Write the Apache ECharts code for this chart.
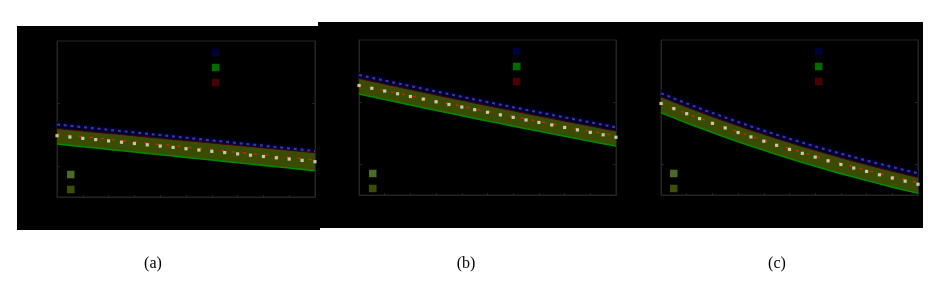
<!DOCTYPE html>
<html>
<head>
<meta charset="utf-8">
<script src="https://cdn.jsdelivr.net/npm/echarts@6/dist/echarts.min.js"></script>
<style>
html,body{margin:0;padding:0;background:#fff;}
#chart{width:950px;height:282px;}
</style>
</head>
<body>
<div id="chart"></div>
<script>
// ---- data ----
const steps = ['0','1','2','3','4','5','6','7','8','9','10','11','12','13','14','15','16','17','18','19','20'];
const panelCaptions = ['(a)', '(b)', '(c)'];

// panel (a)
const aUpperDashed = [1.162,1.141,1.120,1.098,1.077,1.056,1.034,1.013,0.992,0.971,0.950,0.928,0.907,0.886,0.864,0.843,0.822,0.801,0.779,0.758,0.737];
const aBandTop     = [1.098,1.079,1.059,1.040,1.021,1.002,0.982,0.963,0.944,0.924,0.905,0.886,0.866,0.847,0.828,0.809,0.789,0.770,0.751,0.731,0.712];
const aMean        = [1.010,0.989,0.968,0.947,0.927,0.906,0.885,0.864,0.843,0.822,0.802,0.781,0.760,0.739,0.718,0.697,0.676,0.656,0.635,0.614,0.593];
const aObserved    = [0.982,0.961,0.940,0.920,0.899,0.878,0.857,0.836,0.816,0.795,0.774,0.753,0.732,0.712,0.691,0.670,0.649,0.628,0.608,0.587,0.566];
const aBandBottom  = [0.849,0.828,0.806,0.785,0.763,0.742,0.721,0.699,0.678,0.656,0.635,0.614,0.592,0.571,0.549,0.528,0.507,0.485,0.464,0.442,0.421];

// panel (b)
const bUpperDashed = [1.935,1.890,1.845,1.801,1.757,1.713,1.670,1.627,1.584,1.541,1.499,1.457,1.416,1.374,1.333,1.293,1.252,1.212,1.172,1.132,1.092];
const bBandTop     = [1.882,1.837,1.791,1.747,1.703,1.658,1.615,1.571,1.528,1.485,1.442,1.400,1.359,1.316,1.275,1.235,1.193,1.153,1.113,1.072,1.032];
const bMean        = [1.774,1.730,1.686,1.643,1.600,1.558,1.515,1.473,1.432,1.390,1.349,1.308,1.268,1.227,1.187,1.148,1.108,1.069,1.030,0.991,0.952];
const bObserved    = [1.766,1.721,1.677,1.633,1.589,1.547,1.503,1.460,1.419,1.376,1.334,1.293,1.252,1.210,1.170,1.130,1.089,1.050,1.010,0.971,0.931];
const bBandBottom  = [1.629,1.585,1.540,1.496,1.452,1.408,1.365,1.322,1.279,1.236,1.194,1.152,1.111,1.069,1.028,0.988,0.947,0.907,0.868,0.829,0.790];

// panel (c)
const cUpperDashed = [1.640,1.557,1.477,1.399,1.323,1.249,1.177,1.106,1.038,0.972,0.907,0.844,0.783,0.724,0.666,0.610,0.555,0.501,0.450,0.399,0.350];
const cBandTop     = [1.585,1.502,1.421,1.342,1.265,1.191,1.118,1.047,0.979,0.912,0.847,0.783,0.722,0.662,0.603,0.547,0.491,0.438,0.385,0.334,0.285];
const cMean        = [1.479,1.397,1.317,1.240,1.164,1.090,1.019,0.949,0.881,0.815,0.751,0.689,0.628,0.569,0.512,0.456,0.401,0.348,0.297,0.247,0.198];
const cObserved    = [1.476,1.393,1.311,1.232,1.156,1.081,1.008,0.937,0.868,0.801,0.736,0.672,0.611,0.551,0.492,0.435,0.380,0.326,0.274,0.223,0.173];
const cBandBottom  = [1.327,1.244,1.163,1.084,1.007,0.933,0.860,0.789,0.721,0.654,0.589,0.525,0.464,0.404,0.345,0.289,0.233,0.180,0.127,0.076,0.027];

const yTickValues = [0.5, 1.5];
const legendTopNames = ['Upper envelope', 'Lower bound', 'Upper bound'];
const legendBottomNames = ['Confidence band', 'Prediction band'];

// ---- layout / style ----
const panelsData = [
  {up: aUpperDashed, top: aBandTop, mean: aMean, obs: aObserved, bot: aBandBottom},
  {up: bUpperDashed, top: bBandTop, mean: bMean, obs: bObserved, bot: bBandBottom},
  {up: cUpperDashed, top: cBandTop, mean: cMean, obs: cObserved, bot: cBandBottom}
];
const panelRects = [
  {x: 17, y: 26, w: 303, h: 204},
  {x: 318, y: 22, w: 314, h: 206},
  {x: 630, y: 22, w: 293, h: 206}
];
const grids = [
  {left: 57, top: 41, width: 258, height: 156},
  {left: 359, top: 40, width: 257, height: 155},
  {left: 661, top: 40, width: 257, height: 155}
];
const legendTopPos = [{left: 212, top: 48}, {left: 513, top: 47}, {left: 815, top: 47}];
const legendBotPos = [{left: 67, top: 170}, {left: 369, top: 169}, {left: 670, top: 169}];
const captionX = [153, 466, 777];

const C = {
  frame: '#242424', navy: '#000026', olive: '#3a4c00', green: '#008a00',
  darkred: '#3c0014', blue: '#3434b8', red: '#d42016', white: '#e8e8d6',
  legNavy: '#00003c', legGreen: '#006c00', legRed: '#4a0000',
  legOliveLight: '#4a6a28', legOlive: '#3c4e00'
};

const option = {
  backgroundColor: '#ffffff',
  animation: false,
  graphic: panelRects.map(r => ({type: 'rect', z: -10, silent: true,
    shape: {x: r.x, y: r.y, width: r.w, height: r.h}, style: {fill: '#000'}})),
  title: panelCaptions.map((t, i) => ({
    text: t, left: captionX[i], top: 256, padding: 0, textAlign: 'center',
    textStyle: {fontFamily: 'Liberation Serif', fontSize: 16, fontWeight: 'normal', color: '#000'}
  })),
  grid: grids.map(g => ({left: g.left, top: g.top, width: g.width, height: g.height,
    show: true, borderColor: C.frame, borderWidth: 1, backgroundColor: 'transparent', containLabel: false})),
  xAxis: grids.map((g, i) => ({
    type: 'category', gridIndex: i, data: steps, boundaryGap: false,
    axisLine: {show: true, lineStyle: {color: C.frame}},
    axisTick: {show: true, inside: true, length: 2, lineStyle: {color: C.frame}},
    axisLabel: {show: false}, splitLine: {show: false}
  })),
  yAxis: [],
  legend: [],
  series: []
};

grids.forEach((g, i) => {
  ['left', 'right'].forEach(pos => {
    option.yAxis.push({
      type: 'value', gridIndex: i, min: 0, max: 2.5, position: pos,
      axisLine: {show: true, lineStyle: {color: C.frame}},
      axisTick: {show: true, inside: true, length: 3, customValues: yTickValues, lineStyle: {color: C.frame}},
      axisLabel: {show: false}, splitLine: {show: false}
    });
  });
  const yi = i * 2;
  const d = panelsData[i];
  const navyTop = d.up.map(v => v + 0.045);
  const oliveDelta = d.top.map((v, k) => v - d.bot[k]);
  const navyDelta = navyTop.map((v, k) => v - d.top[k]);
  const stack = 'band' + i;
  const common = {xAxisIndex: i, yAxisIndex: yi, symbol: 'none', silent: true};
  option.series.push(
    Object.assign({}, common, {type: 'line', name: 'base' + i, stack, data: d.bot,
      lineStyle: {opacity: 0}, z: 1}),
    Object.assign({}, common, {type: 'line', name: legendBottomNames[1], stack, data: oliveDelta,
      lineStyle: {opacity: 0}, areaStyle: {color: C.olive, opacity: 1}, itemStyle: {color: C.legOlive}, z: 1}),
    Object.assign({}, common, {type: 'line', name: legendTopNames[0], stack, data: navyDelta,
      lineStyle: {opacity: 0}, areaStyle: {color: C.navy, opacity: 1}, itemStyle: {color: C.legNavy}, z: 1}),
    Object.assign({}, common, {type: 'line', name: legendTopNames[1], data: d.bot,
      lineStyle: {color: C.green, width: 1.6}, itemStyle: {color: C.legGreen}, z: 3}),
    Object.assign({}, common, {type: 'line', name: legendTopNames[2], data: d.top,
      lineStyle: {color: C.darkred, width: 1.2}, itemStyle: {color: C.legRed}, z: 3}),
    Object.assign({}, common, {type: 'line', name: 'Upper limit', data: d.up,
      lineStyle: {color: C.blue, width: 2.2, type: [3, 3.8]}, z: 4}),
    Object.assign({}, common, {type: 'line', name: legendBottomNames[0], data: d.mean,
      lineStyle: {color: C.red, width: 1.5, type: [3, 8]}, itemStyle: {color: C.legOliveLight}, z: 4}),
    Object.assign({}, common, {type: 'scatter', name: 'Observed', data: d.obs, symbol: 'rect',
      symbolSize: 3.2, itemStyle: {color: C.white}, z: 5})
  );
  option.legend.push({
    orient: 'vertical', left: legendTopPos[i].left, top: legendTopPos[i].top, padding: 0,
    itemWidth: 7.5, itemHeight: 7.5, itemGap: 6, icon: 'rect', selectedMode: false,
    textStyle: {color: '#000', fontSize: 9, lineHeight: 9},
    data: legendTopNames.map((n, k) => ({name: n, icon: 'rect',
      itemStyle: {color: [C.legNavy, C.legGreen, C.legRed][k]}}))
  });
  option.legend.push({
    orient: 'vertical', left: legendBotPos[i].left, top: legendBotPos[i].top, padding: 0,
    itemWidth: 7.5, itemHeight: 7.5, itemGap: 6, icon: 'rect', selectedMode: false,
    textStyle: {color: '#000', fontSize: 9, lineHeight: 9},
    data: legendBottomNames.map((n, k) => ({name: n, icon: 'rect',
      itemStyle: {color: [C.legOliveLight, C.legOlive][k]}}))
  });
});

const chart = echarts.init(document.getElementById('chart'), null, {renderer: 'canvas'});
chart.setOption(option);
</script>
</body>
</html>
